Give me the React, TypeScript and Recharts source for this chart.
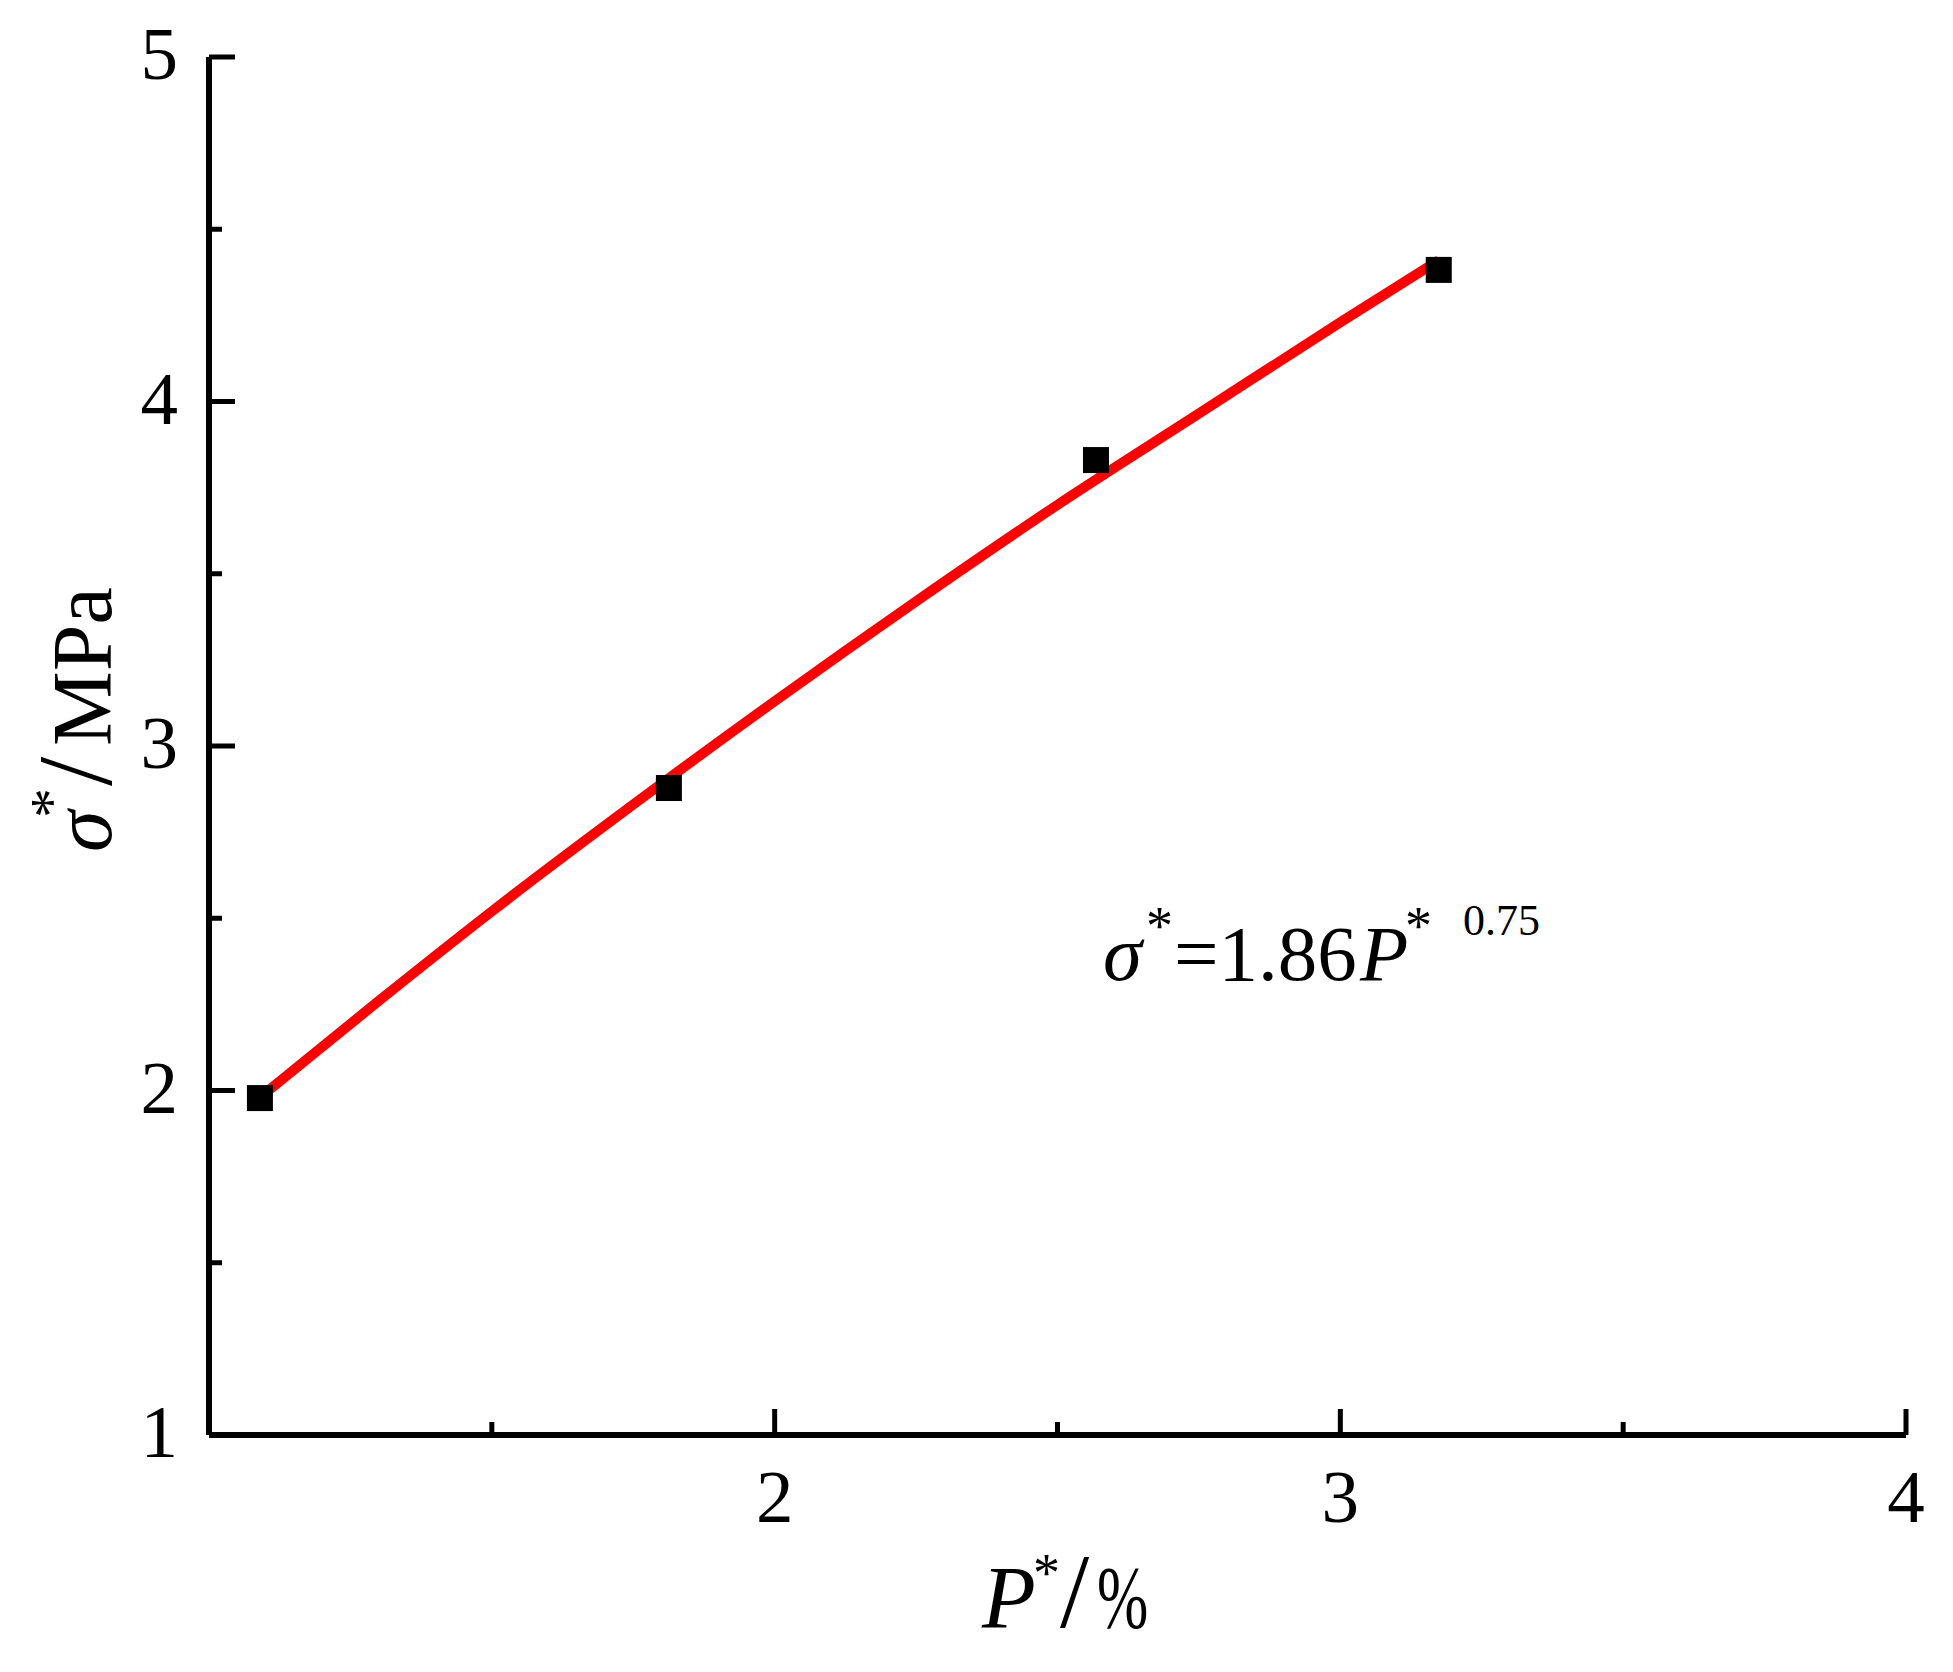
import React from 'react';
import { ComposedChart, Line, Scatter, XAxis, YAxis, Customized } from 'recharts';

// measured points (P*, sigma*)
const measuredP = [1.09, 1.813, 2.568, 3.174];
const measuredS = [1.978, 2.878, 3.83, 4.382];
// fitted curve
const fitP = [1.09, 1.3, 1.5, 1.75, 2.0, 2.25, 2.5, 2.75, 3.0, 3.174];
const fitS = [1.98, 2.26, 2.52, 2.83, 3.13, 3.42, 3.7, 3.965, 4.23, 4.41];

const xTicks = [1.5, 2, 2.5, 3, 3.5, 4];
const xMajor = [2, 3, 4];
const yTicks = [1, 1.5, 2, 2.5, 3, 3.5, 4, 4.5, 5];
const yMajor = [1, 2, 3, 4, 5];

const measured = measuredP.map((x, i) => ({ x, y: measuredS[i] }));
const fit = fitP.map((x, i) => ({ x, y: fitS[i] }));

const FONT = '"Liberation Serif", "Times New Roman", serif';

const XTick = (props: any) => {
  const { x, y, payload } = props;
  const v = payload.value;
  const major = xMajor.includes(v);
  return (
    <g>
      <line x1={x} x2={x} y1={y} y2={y - (major ? 26 : 13)} stroke="#000" strokeWidth={5} />
      {major && (
        <text x={x} y={y + 87} textAnchor="middle" fontFamily={FONT} fontSize={75} fill="#000">
          {v}
        </text>
      )}
    </g>
  );
};

const YTick = (props: any) => {
  const { x, y, payload } = props;
  const v = payload.value;
  const major = yMajor.includes(v);
  return (
    <g>
      <line x1={x} x2={x + (major ? 26 : 13)} y1={y} y2={y} stroke="#000" strokeWidth={5} />
      {major && (
        <text x={x - 31} y={y + 22} textAnchor="end" fontFamily={FONT} fontSize={75} fill="#000">
          {v}
        </text>
      )}
    </g>
  );
};

const Square = (props: any) => {
  const { cx, cy } = props;
  if (cx == null || cy == null) return null;
  return <rect x={cx - 13} y={cy - 13} width={26} height={26} fill="#000" />;
};

const Texts = () => (
  <g fontFamily={FONT} fill="#000">
    {/* x-axis title */}
    <text x={982} y={1627} fontSize={88} fontStyle="italic">P</text>
    <text x={1033} y={1591} fontSize={54}>*</text>
    <text x={1060} y={1627} fontSize={105}>/</text>
    <text transform="translate(1097 1627) scale(0.7 1)" fontSize={88}>%</text>

    {/* y-axis title */}
    <g transform="translate(111 852) rotate(-90)">
      <text x={0} y={0} fontSize={84} fontStyle="italic">σ</text>
      <text x={34} y={-40} fontSize={60}>*</text>
      <text x={66} y={0} fontSize={105}>/</text>
      <text x={106} y={0} fontSize={84}>MPa</text>
    </g>

    {/* fitted equation */}
    <text x={1103} y={980} fontSize={79} fontStyle="italic">σ</text>
    <text x={1146} y={944} fontSize={54}>*</text>
    <text x={1174} y={980} fontSize={79}>=1.86</text>
    <text x={1360} y={980} fontSize={79} fontStyle="italic">P</text>
    <text x={1405} y={944} fontSize={54}>*</text>
    <text x={1463} y={935} fontSize={44}>0.75</text>
  </g>
);

export default function App() {
  return (
    <div style={{ position: 'absolute', left: 0, top: 0, background: '#fff' }}>
      <ComposedChart
        width={1953}
        height={1672}
        margin={{ top: 57, right: 47, left: 0, bottom: 0 }}
      >
        <XAxis
          type="number"
          dataKey="x"
          domain={[1, 4]}
          ticks={xTicks}
          interval={0}
          height={237}
          tickSize={0}
          tickMargin={0}
          tickLine={false}
          tick={<XTick />}
          axisLine={{ stroke: '#000', strokeWidth: 6 }}
          allowDataOverflow
        />
        <YAxis
          type="number"
          domain={[1, 5]}
          ticks={yTicks}
          interval={0}
          width={209}
          tickSize={0}
          tickMargin={0}
          tickLine={false}
          tick={<YTick />}
          axisLine={{ stroke: '#000', strokeWidth: 6 }}
          allowDataOverflow
        />
        <Scatter data={measured} dataKey="y" shape={<Square />} isAnimationActive={false} />
        <Line
          data={fit}
          dataKey="y"
          type="monotone"
          stroke="#ff0000"
          strokeWidth={10}
          dot={false}
          activeDot={false}
          isAnimationActive={false}
        />
        <Customized component={Texts} />
      </ComposedChart>
    </div>
  );
}
